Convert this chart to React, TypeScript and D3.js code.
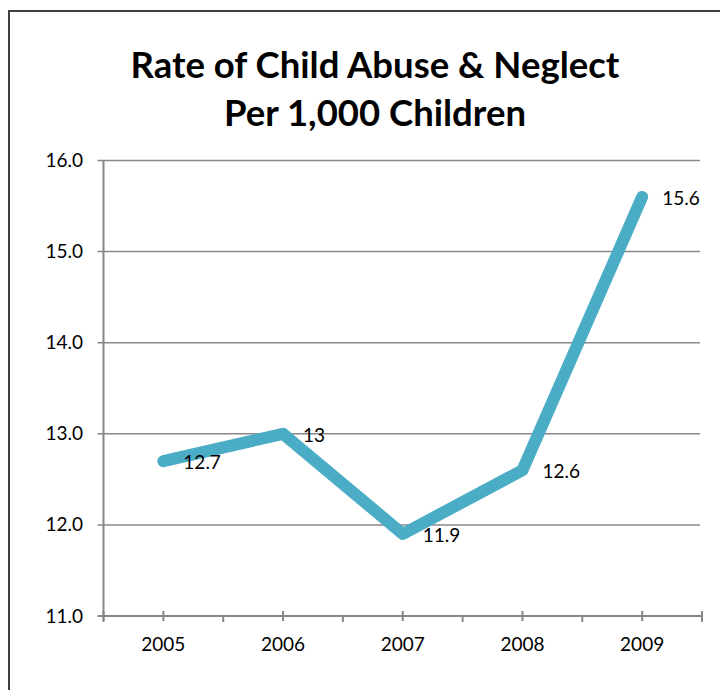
import { useEffect, useRef } from "react";
import * as d3 from "d3";

const YEARS = ["2005", "2006", "2007", "2008", "2009"];
const RATES = [12.7, 13, 11.9, 12.6, 15.6];
const RATE_LABELS = ["12.7", "13", "11.9", "12.6", "15.6"];
const Y_TICKS = [11, 12, 13, 14, 15, 16];
const TITLE = ["Rate of Child Abuse & Neglect", "Per 1,000 Children"];

const W = 720;
const H = 690;
const FONT = "Lato, 'Open Sans', sans-serif";

export default function App() {
  const svgRef = useRef<SVGSVGElement>(null);

  useEffect(() => {
    if (!svgRef.current) return;
    const svg = d3.select(svgRef.current);
    svg.selectAll("*").remove();

    const plot = { left: 103.5, right: 702, top: 160.5, bottom: 616 };

    // frame
    svg
      .append("rect")
      .attr("x", 9)
      .attr("y", 11)
      .attr("width", W + 20)
      .attr("height", H + 20)
      .attr("fill", "white")
      .attr("stroke", "#404040")
      .attr("stroke-width", 2);

    // title
    svg
      .append("g")
      .selectAll("text")
      .data(TITLE)
      .enter()
      .append("text")
      .attr("x", 375)
      .attr("y", (_, i) => 78 + i * 48)
      .attr("text-anchor", "middle")
      .attr("font-family", FONT)
      .attr("font-weight", "bold")
      .attr("font-size", 36.5)
      .attr("fill", "#000")
      .text((d) => d);

    const x = d3.scaleBand().domain(YEARS).range([plot.left, plot.right]);
    const y = d3.scaleLinear().domain([11, 16]).range([plot.bottom, plot.top]);

    // gridlines + y labels
    const yg = svg.append("g");
    Y_TICKS.forEach((t) => {
      yg.append("line")
        .attr("x1", plot.left - 6)
        .attr("x2", t === 11 ? plot.right : plot.right - 2)
        .attr("y1", y(t))
        .attr("y2", y(t))
        .attr("stroke", "#888")
        .attr("stroke-width", t === 11 ? 2 : 1.5);
      yg.append("text")
        .attr("x", 83)
        .attr("y", y(t) + 6.5)
        .attr("text-anchor", "end")
        .attr("font-family", FONT)
        .attr("font-size", 19)
        .attr("fill", "#000")
        .text(d3.format(".1f")(t));
    });

    // y axis line
    svg
      .append("line")
      .attr("x1", plot.left)
      .attr("x2", plot.left)
      .attr("y1", plot.top)
      .attr("y2", plot.bottom + 5)
      .attr("stroke", "#888")
      .attr("stroke-width", 2);

    // x ticks: boundaries (down) and category centers (crossing)
    const xg = svg.append("g");
    const bounds = YEARS.map((d) => x(d)!).concat([plot.right]);
    bounds.forEach((b, i) => {
      const cross = i === 0 || i === bounds.length - 1;
      xg.append("line")
        .attr("x1", b)
        .attr("x2", b)
        .attr("y1", cross ? plot.bottom - 5 : plot.bottom)
        .attr("y2", plot.bottom + 6)
        .attr("stroke", "#888")
        .attr("stroke-width", 2);
    });
    YEARS.forEach((d) => {
      const cx = x(d)! + x.bandwidth() / 2;
      xg.append("line")
        .attr("x1", cx)
        .attr("x2", cx)
        .attr("y1", plot.bottom - 5)
        .attr("y2", plot.bottom + 5)
        .attr("stroke", "#888")
        .attr("stroke-width", 2);
      xg.append("text")
        .attr("x", cx)
        .attr("y", 651)
        .attr("text-anchor", "middle")
        .attr("font-family", FONT)
        .attr("font-size", 19)
        .attr("fill", "#000")
        .text(d);
    });

    // line
    const pts = YEARS.map((d, i) => ({ year: d, v: RATES[i], label: RATE_LABELS[i] }));
    const line = d3
      .line<{ year: string; v: number }>()
      .x((d) => x(d.year)! + x.bandwidth() / 2)
      .y((d) => y(d.v));
    svg
      .append("path")
      .attr("d", line(pts))
      .attr("fill", "none")
      .attr("stroke", "#4BACC6")
      .attr("stroke-width", 12)
      .attr("stroke-linecap", "round")
      .attr("stroke-linejoin", "round");

    // data labels
    svg
      .append("g")
      .selectAll("text")
      .data(pts)
      .enter()
      .append("text")
      .attr("x", (d) => x(d.year)! + x.bandwidth() / 2 + 20)
      .attr("y", (d) => y(d.v) + 8)
      .attr("font-family", FONT)
      .attr("font-size", 19)
      .attr("fill", "#000")
      .text((d) => d.label);
  }, []);

  return (
    <svg
      ref={svgRef}
      width={W}
      height={H}
      style={{ position: "absolute", left: 0, top: 0, background: "white" }}
    />
  );
}
